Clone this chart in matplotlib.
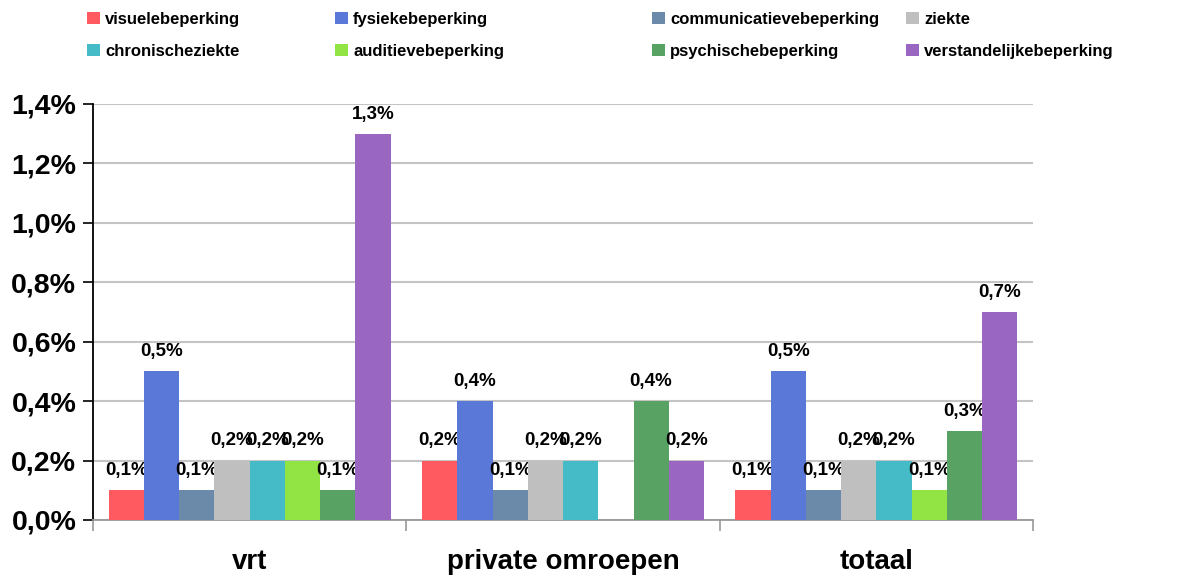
import numpy as np
import matplotlib.pyplot as plt
from matplotlib.patches import Patch

plt.rcParams['font.family'] = ['Liberation Sans', 'DejaVu Sans']
plt.rcParams['font.weight'] = 'bold'

groups = ["vrt", "private omroepen", "totaal"]
series = [
    "visuelebeperking", "fysiekebeperking", "communicatievebeperking", "ziekte",
    "chronischeziekte", "auditievebeperking", "psychischebeperking",
    "verstandelijkebeperking",
]
colors = ["#FF5A5F", "#5A78D8", "#6B89A8", "#BFBFBF",
          "#44BBC6", "#92E445", "#58A263", "#9966C2"]

# percent values per series: [vrt, private omroepen, totaal]
visuele = [0.1, 0.2, 0.1]
fysieke = [0.5, 0.4, 0.5]
communicatieve = [0.1, 0.1, 0.1]
ziekte = [0.2, 0.2, 0.2]
chronische = [0.2, 0.2, 0.2]
auditieve = [0.2, np.nan, 0.1]
psychische = [0.1, 0.4, 0.3]
verstandelijke = [1.3, 0.2, 0.7]
values = [visuele, fysieke, communicatieve, ziekte,
          chronische, auditieve, psychische, verstandelijke]

fig = plt.figure(figsize=(11.82, 5.76), dpi=100)
ax = fig.add_axes([93 / 1182, 1 - 520 / 576, 940 / 1182, 416 / 576])

n = len(series)
width = 0.9 / n
x = np.arange(len(groups))
for i, (name, vals, c) in enumerate(zip(series, values, colors)):
    pos = x + (i - (n - 1) / 2) * width
    v = np.array(vals, dtype=float)
    ax.bar(pos, np.nan_to_num(v), width, color=c, label=name, zorder=3)
    for p, val in zip(pos, v):
        if np.isnan(val):
            continue
        ax.annotate(f"{val:.1f}%".replace(".", ","), (p, val),
                    xytext=(0, 8), textcoords="offset points",
                    ha="center", va="bottom", fontsize=13.5, fontweight="bold")

ax.set_xlim(-0.5, len(groups) - 0.5)
ax.set_ylim(0, 1.4)
yt = np.arange(0, 1.41, 0.2)
ax.set_yticks(yt)
ax.set_yticklabels([f"{t:.1f}%".replace(".", ",") for t in yt],
                   fontsize=20.5, fontweight="bold")
ax.yaxis.grid(True, color="#C4C4C4", linewidth=1.5, zorder=0)
ax.tick_params(axis="y", length=7, width=1.2, direction="out", pad=5)

ax.set_xticks(np.arange(-0.5, len(groups), 1.0))
ax.set_xticklabels([])
ax.set_xticks(x, minor=True)
ax.set_xticklabels(groups, minor=True, fontsize=20, fontweight="bold")
ax.tick_params(axis="x", which="major", length=8, width=1.2,
               color="#999999", direction="out")
ax.tick_params(axis="x", which="minor", length=0, pad=21)

for s in ["top", "right"]:
    ax.spines[s].set_visible(False)
ax.spines["left"].set_linewidth(1.3)
ax.spines["bottom"].set_color("#999999")
ax.spines["bottom"].set_linewidth(1.3)

handles = [Patch(facecolor=c, label=s) for s, c in zip(series, colors)]
col_x = [75, 323, 640, 894]
for j, cx in enumerate(col_x):
    fig.legend(handles=[handles[j], handles[j + 4]], loc="upper left",
               bbox_to_anchor=(cx / 1182, 1.0), frameon=False,
               prop={"size": 12, "weight": "bold"}, handlelength=0.8,
               handleheight=0.8, handletextpad=0.3, labelspacing=1.0,
               borderaxespad=0.3)

fig.savefig("out.png", dpi=100)
